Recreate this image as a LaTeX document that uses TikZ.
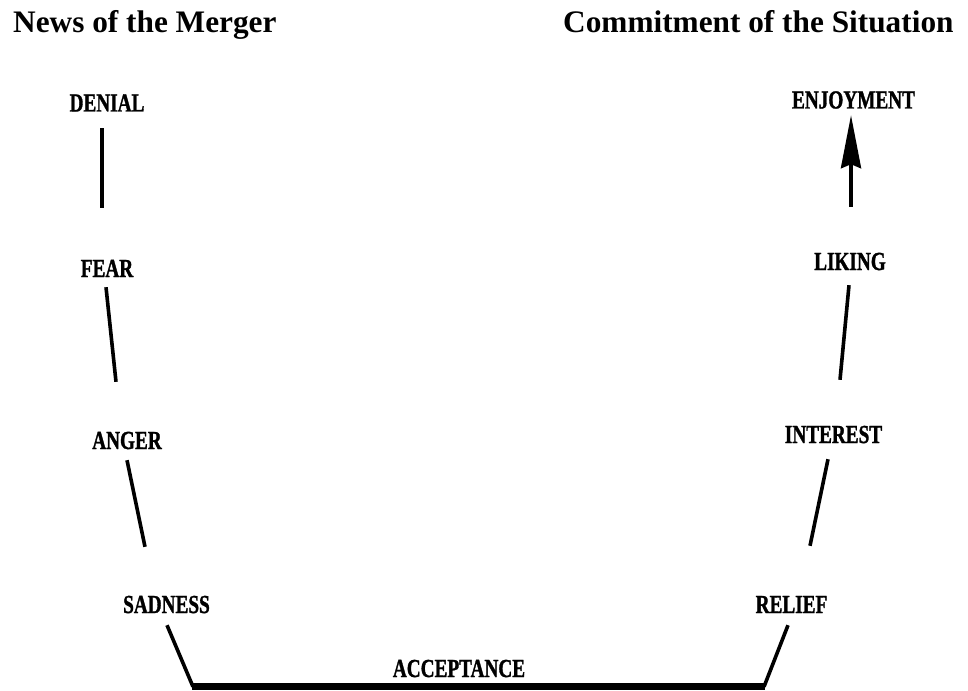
\documentclass[tikz,border=0pt]{standalone}
\usepackage{fontspec}
\setmainfont{Liberation Serif}
\newfontfamily\stagefont{Liberation Serif}[FakeStretch=0.74, BoldFeatures={FakeBold=1.2}]
\usetikzlibrary{arrows.meta,calc}
\tikzset{
  heading/.style={font=\fontsize{31.3}{37}\selectfont\bfseries, inner sep=0pt, anchor=base west},
  stage/.style={font=\stagefont\fontsize{26}{30}\selectfont\bfseries, inner sep=0pt,
    anchor=base, text height=17pt, text depth=0pt},
  link/.style={line width=3.6pt},
  floorline/.style={line width=7pt},
  rise/.style={link, -{Stealth[length=53pt, width=20pt, inset=4pt]}},
}
\begin{document}
\begin{tikzpicture}[x=1pt, y=-1pt]
\useasboundingbox (0,0) rectangle (968,690);

% headings
\node[heading] (news) at (13,33) {News of the Merger};
\node[heading] (commit) at (563,33) {Commitment of the Situation};

% descending stages
\node[stage] (denial)  at (107,111.5) {DENIAL};
\node[stage] (fear)    at (107,277) {FEAR};
\node[stage] (anger)   at (127,449) {ANGER};
\node[stage] (sadness) at (166.5,613) {SADNESS};

% bottom of the curve
\node[stage] (acceptance) at (459,677) {ACCEPTANCE};
\coordinate (floorL) at ($(acceptance.south)+(-267,9.5)$);
\coordinate (floorR) at ($(acceptance.south)+(306,9.5)$);

% ascending stages
\node[stage] (relief)    at (791.5,613) {RELIEF};
\node[stage] (interest)  at (833.5,443) {INTEREST};
\node[stage] (liking)    at (850,270) {LIKING};
\node[stage] (enjoyment) at (853.5,108.5) {ENJOYMENT};

% left branch
\draw[link] ($(denial.south)+(-5,16.5)$) -- ($(fear.north)+(-5,-52)$);
\draw[link] ($(fear.south)+(-1,10)$) -- ($(anger.north)+(-11,-50)$);
\draw[link] ($(anger.south)+(0,11)$) -- ($(sadness.north)+(-21.5,-49)$);
\draw[link] ($(sadness.south)+(0.5,12)$) -- ([xshift=1pt]floorL);

% floor
\draw[floorline] (floorL) -- (floorR);

% right branch
\draw[link] ([xshift=-1pt]floorR) -- ($(relief.south)+(-3.5,12)$);
\draw[link] ($(relief.north)+(18.5,-50)$) -- ($(interest.south)+(-5.5,16)$);
\draw[link] ($(interest.north)+(6.5,-46)$) -- ($(liking.south)+(-1,15)$);
\draw[rise] ($(liking.north)+(1,-46)$) -- ($(enjoyment.south)+(-2.5,6.5)$);
\end{tikzpicture}
\end{document}
